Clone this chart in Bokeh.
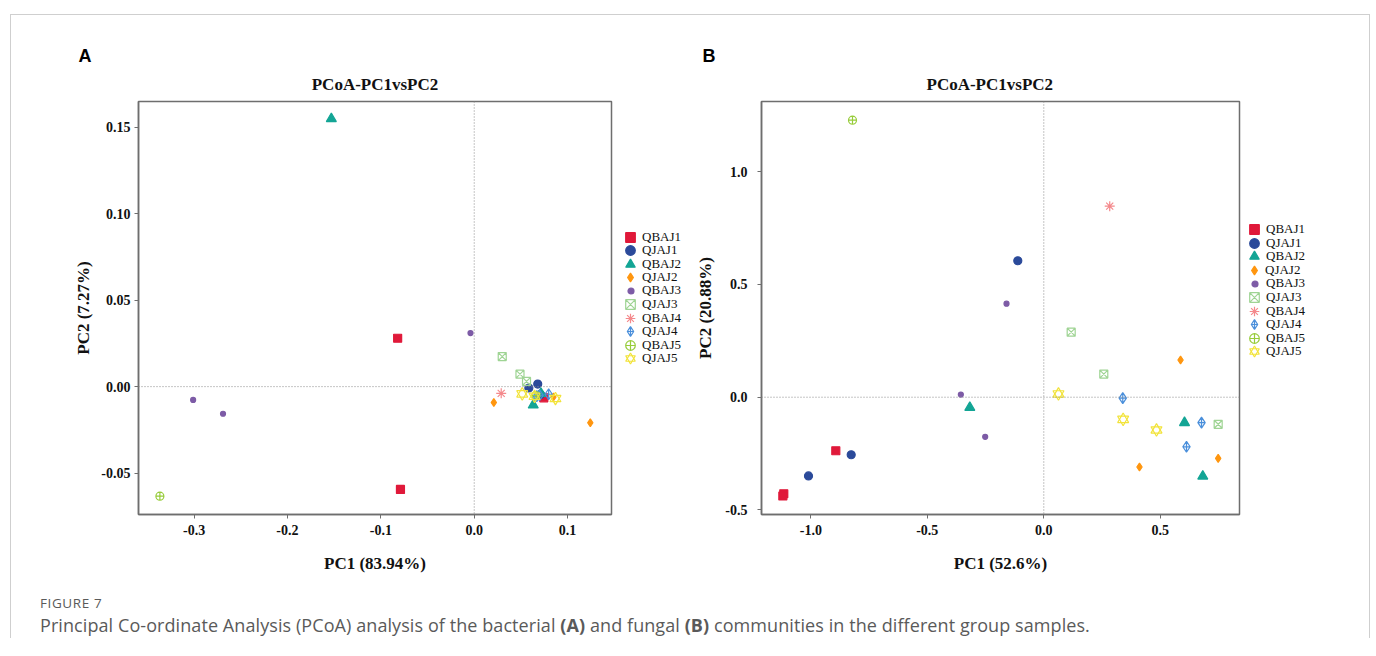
from bokeh.plotting import figure
from bokeh.models import (Span, Legend, LegendItem, Title, FixedTicker,
                          NumeralTickFormatter, Div, Range1d, ColumnDataSource)
from bokeh.layouts import row, column
from bokeh.embed import file_html
from bokeh.resources import INLINE

groups = ["QBAJ1", "QJAJ1", "QBAJ2", "QJAJ2", "QBAJ3",
          "QJAJ3", "QBAJ4", "QJAJ4", "QBAJ5", "QJAJ5"]

# Panel A (bacteria)
a_group = ["QBAJ1", "QBAJ1", "QBAJ1", "QJAJ1", "QJAJ1", "QJAJ1",
           "QBAJ2", "QBAJ2", "QBAJ2", "QJAJ2", "QJAJ2", "QJAJ2",
           "QBAJ3", "QBAJ3", "QBAJ3", "QJAJ3", "QJAJ3", "QJAJ3",
           "QBAJ4", "QJAJ4", "QJAJ4", "QJAJ4", "QBAJ5", "QBAJ5",
           "QJAJ5", "QJAJ5", "QJAJ5"]
a_pc1 = [-0.082, -0.079, 0.0745, 0.0585, 0.068, 0.071,
         -0.153, 0.0632, 0.0715, 0.021, 0.1243, 0.0848,
         -0.004, -0.301, -0.269, 0.030, 0.049, 0.056,
         0.0289, 0.0797, 0.070, 0.067, -0.3366, 0.066,
         0.0514, 0.0646, 0.087]
a_pc2 = [0.028, -0.0595, -0.0065, -0.0008, 0.0015, -0.0045,
         0.155, -0.0107, -0.0040, -0.0092, -0.0209, -0.0060,
         0.031, -0.0077, -0.0157, 0.0174, 0.0072, 0.003,
         -0.0039, -0.0044, -0.005, -0.0055, -0.0634, -0.0052,
         -0.0042, -0.0056, -0.0069]
a_xticks = [-0.3, -0.2, -0.1, 0.0, 0.1]
a_yticks = [-0.05, 0.0, 0.05, 0.10, 0.15]

# Panel B (fungi)
b_group = ["QBAJ1", "QBAJ1", "QBAJ1", "QJAJ1", "QJAJ1", "QJAJ1",
           "QBAJ2", "QBAJ2", "QBAJ2", "QJAJ2", "QJAJ2", "QJAJ2",
           "QBAJ3", "QBAJ3", "QBAJ3", "QJAJ3", "QJAJ3", "QJAJ3",
           "QBAJ4", "QJAJ4", "QJAJ4", "QJAJ4", "QBAJ5",
           "QJAJ5", "QJAJ5", "QJAJ5"]
b_pc1 = [-0.8927, -1.116, -1.120, -0.1116, -0.8266, -1.0099,
         -0.3175, 0.604, 0.6824, 0.587, 0.7485, 0.4107,
         -0.160, -0.356, -0.2515, 0.1176, 0.2575, 0.7485,
         0.283, 0.339, 0.677, 0.6125, -0.821,
         0.063, 0.3406, 0.4837]
b_pc2 = [-0.2374, -0.428, -0.438, 0.605, -0.255, -0.349,
         -0.0457, -0.113, -0.3503, 0.165, -0.271, -0.3094,
         0.4145, 0.0116, -0.1758, 0.2885, 0.1024, -0.120,
         0.847, -0.0044, -0.113, -0.2198, 1.228,
         0.0145, -0.0983, -0.1452]
b_xticks = [-1.0, -0.5, 0.0, 0.5]
b_yticks = [-0.5, 0.0, 0.5, 1.0]

STY = {
    "QBAJ1": [dict(marker="square", color="#E0193A", size=8, fill=1.0)],
    "QJAJ1": [dict(marker="circle", color="#2B4A9A", size=8, fill=1.0)],
    "QBAJ2": [dict(marker="triangle", color="#13A595", size=10, fill=1.0)],
    "QJAJ2": [dict(marker="diamond", color="#FF960F", size=8, fill=1.0)],
    "QBAJ3": [dict(marker="circle", color="#7D5BA6", size=5, fill=1.0)],
    "QJAJ3": [dict(marker="square_x", color="#9FD494", size=8, fill=0.0)],
    "QBAJ4": [dict(marker="asterisk", color="#F4898C", size=10, fill=0.0)],
    "QJAJ4": [dict(marker="diamond_cross", color="#4A8FDB", size=11, fill=0.05)],
    "QBAJ5": [dict(marker="circle_cross", color="#97CC3A", size=8, fill=0.0)],
    "QJAJ5": [dict(marker="triangle", color="#F2E33A", size=11, fill=0.0),
              dict(marker="inverted_triangle", color="#F2E33A", size=11, fill=0.0)],
}
# legend swatch box (Bokeh draws legend markers at 0.4 x box)
LEG_BOX = {"QBAJ1": 24, "QJAJ1": 24, "QBAJ2": 24, "QJAJ2": 22, "QBAJ3": 15,
           "QJAJ3": 24, "QBAJ4": 24, "QJAJ4": 24, "QBAJ5": 24, "QJAJ5": 24}

SERIF = "Liberation Serif"
H = 565


def group_sources(gname, xs, ys):
    out = {}
    for g in groups:
        idx = [k for k, gg in enumerate(gname) if gg == g]
        out[g] = ColumnDataSource(dict(x=[xs[k] for k in idx], y=[ys[k] for k in idx]))
    return out


def make_panel(letter, srcs, xticks, yticks, xr, yr, xlabel, ylabel,
               width, borders, fmt_x, fmt_y, title_offset,
               letter_offset, ylab_standoff, ytick_standoff):
    p = figure(width=width, height=H, output_backend="svg",
               toolbar_location=None, title=None,
               x_range=Range1d(*xr), y_range=Range1d(*yr),
               min_border_left=borders[0], min_border_right=borders[1],
               min_border_top=borders[2], min_border_bottom=borders[3])
    p.xgrid.visible = False
    p.ygrid.visible = False
    p.outline_line_color = "#6e6e6e"
    p.outline_line_width = 1.5
    p.background_fill_color = "white"
    p.border_fill_color = "white"

    if title_offset is None:
        t = Title(text="PCoA-PC1vsPC2", align="center", text_font=SERIF,
                  standoff=15, text_font_size="17px",
                  text_font_style="bold", text_color="#111111")
    else:
        t = Title(text="PCoA-PC1vsPC2", align="left", offset=title_offset, text_font=SERIF,
                  standoff=15, text_font_size="17px", text_font_style="bold",
                  text_color="#111111")
    p.add_layout(t, "above")
    p.add_layout(Title(text=letter, align="left", offset=letter_offset,
                       text_font="Liberation Sans", text_font_size="18px",
                       text_font_style="bold", text_color="#000000",
                       standoff=0), "above")

    p.add_layout(Span(location=0, dimension="height", line_color="#8a8a8a",
                      line_width=1, line_dash="1 2"))
    p.add_layout(Span(location=0, dimension="width", line_color="#8a8a8a",
                      line_width=1, line_dash="1 2"))

    for g in groups:
        for s in STY[g]:
            p.scatter("x", "y", source=srcs[g], marker=s["marker"], size=s["size"],
                      line_color=s["color"], fill_color=s["color"],
                      fill_alpha=s["fill"], line_width=1.2)

    for ax in (p.xaxis[0], p.yaxis[0]):
        ax.axis_line_color = "#6e6e6e"
        ax.axis_line_width = 1.5
        ax.major_tick_line_color = "#6e6e6e"
        ax.major_tick_out = 4
        ax.major_tick_in = 0
        ax.minor_tick_line_color = None
        ax.major_label_text_font = SERIF
        ax.major_label_text_font_size = "14px"
        ax.major_label_text_font_style = "bold"
        ax.major_label_text_color = "#111111"
        ax.axis_label_text_font = SERIF
        ax.axis_label_text_font_size = "17px"
        ax.axis_label_text_font_style = "bold"
        ax.axis_label_text_color = "#111111"
    p.xaxis.ticker = FixedTicker(ticks=xticks)
    p.yaxis.ticker = FixedTicker(ticks=yticks)
    p.xaxis.formatter = NumeralTickFormatter(format=fmt_x)
    p.yaxis.formatter = NumeralTickFormatter(format=fmt_y)
    p.xaxis.axis_label = xlabel
    p.yaxis.axis_label = ylabel
    p.xaxis.axis_label_standoff = 16
    p.xaxis.major_label_standoff = 6
    p.yaxis.axis_label_standoff = ylab_standoff
    p.yaxis.major_label_standoff = ytick_standoff
    return p


def make_legend(srcs, width, tb, cx, lab_off, cy0, step):
    # separate legend strip; its range is set away from the data so only the
    # legend swatches are drawn
    lf = figure(width=width, height=H, output_backend="svg", toolbar_location=None,
                x_axis_type=None, y_axis_type=None, x_range=Range1d(100, 101),
                y_range=Range1d(100, 101), min_border_left=0, min_border_right=0,
                min_border_top=tb[0], min_border_bottom=tb[1])
    lf.outline_line_color = None
    lf.background_fill_color = "white"
    lf.border_fill_color = "white"
    for i, g in enumerate(groups):
        rends = []
        for s in STY[g]:
            r = lf.scatter("x", "y", source=srcs[g], marker=s["marker"], size=s["size"],
                           line_color=s["color"], fill_color=s["color"],
                           fill_alpha=s["fill"], line_width=1.2)
            rends.append(r)
        gs = LEG_BOX[g]
        cy = cy0 - i * step
        leg = Legend(items=[LegendItem(label=g, renderers=rends)],
                     location=(int(round(cx - gs / 2)), int(round(cy - gs / 2))),
                     border_line_color=None, background_fill_alpha=0,
                     glyph_width=gs, glyph_height=gs, label_height=gs,
                     spacing=0, padding=0, margin=0,
                     label_standoff=max(0, int(round(lab_off - gs / 2))),
                     label_text_font=SERIF, label_text_font_size="13px",
                     label_text_color="#111111")
        lf.add_layout(leg)
    return lf


srcA = group_sources(a_group, a_pc1, a_pc2)
srcB = group_sources(b_group, b_pc1, b_pc2)

pA = make_panel("A", srcA, a_xticks, a_yticks,
                (-0.3595, 0.147), (-0.074, 0.165),
                "PC1 (83.94%)", "PC2 (7.27%)",
                604, (127, 4, 83, 66), "0.0", "0.00",
                None, -60, 5, 4)
legA = make_legend(srcA, 76, (83, 66), 15, 12, 277, 13.44)

pB = make_panel("B", srcB, b_xticks, b_yticks,
                (-1.2116, 0.840), (-0.520, 1.311),
                "PC1 (52.6%)", "PC2 (20.88%)",
                552, (70, 4, 86, 62), "0.0", "0.0",
                165, -59, 7, 10)
legB = make_legend(srcB, 126, (86, 62), 11, 11, 285, 13.6)

caption = Div(text=(
    "<div style=\"margin-left:29px;padding-top:14px;font-family:'Open Sans';color:#5a5a5a;\">"
    "<div style='font-size:13.5px;line-height:18px;letter-spacing:0.6px;'>FIGURE 7</div>"
    "<div style='font-size:18px;line-height:24px;margin-top:1px;white-space:nowrap;"
    "letter-spacing:0.08px;'>"
    "Principal Co-ordinate Analysis (PCoA) analysis of the bacterial <b>(A)</b> and fungal "
    "<b>(B)</b> communities in the different group samples.</div></div>"),
    width=1358, height=58, margin=0)

layout = column(row(pA, legA, pB, legB, margin=0), caption, margin=0,
                styles={"border": "1px solid #cfcfcf", "border-bottom": "none",
                        "margin-top": "14px", "margin-left": "10px"})

html = file_html(layout, INLINE, title="PCoA")
open("out.html", "w").write(html)
